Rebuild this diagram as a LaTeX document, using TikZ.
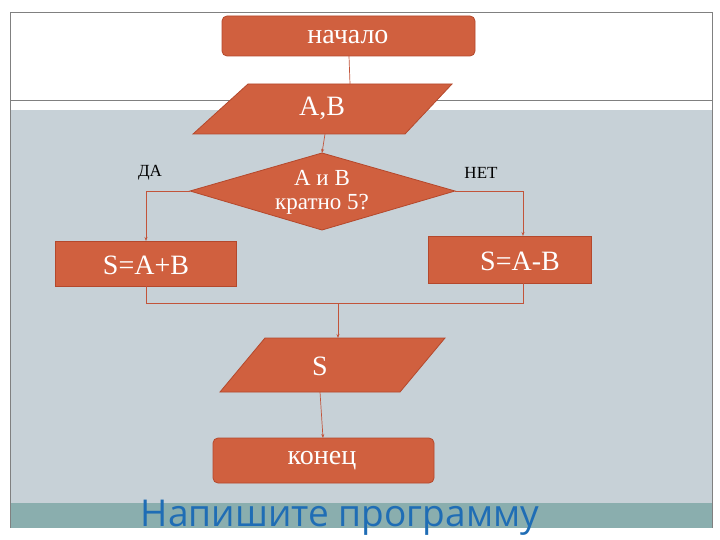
\documentclass[tikz,border=0pt]{standalone}
\usepackage{fontspec}
\setmainfont{Liberation Serif}
\newfontfamily\sansf{Open Sans}
\usetikzlibrary{shapes.geometric,arrows.meta}
\definecolor{boxfill}{HTML}{D0603F}
\definecolor{boxedge}{HTML}{B4482C}
\definecolor{bggray}{HTML}{C7D1D7}
\definecolor{teal}{HTML}{8AAEAE}
\definecolor{lnk}{HTML}{C2543A}
\definecolor{blu}{HTML}{1F6DB5}
\begin{document}
\begin{tikzpicture}[x=1pt,y=-1pt,
  shp/.style={fill=boxfill,draw=boxedge,line width=0.8pt},
  lbl/.style={text=white,font=\fontsize{28}{30}\selectfont},
  conn/.style={draw=lnk,line width=0.7pt},
  arr/.style={conn,-{Stealth[length=4pt,width=3pt]}},
  side/.style={font=\fontsize{17}{19}\selectfont,text=black}]
\useasboundingbox (0,0) rectangle (720,540);
\fill[white] (0,0) rectangle (720,540);
\fill[bggray] (10,110) rectangle (712,503);
\fill[teal] (10,503) rectangle (712,528);
\draw[gray,line width=0.6pt] (10,528) -- (10,12) -- (712,12) -- (712,528);
\draw[gray,line width=0.6pt] (10,100) -- (712,100);
% shapes
\draw[shp,rounded corners=5pt] (222,16) rectangle (475,56);
\node[lbl] (start) at (348,37) {начало};
\coordinate (startb) at (349,56);
\draw[shp] (248,84) -- (452,84) -- (405,134) -- (193,134) -- cycle;
\node[lbl] (ab) at (322,108) {А,В};
\coordinate (abt) at (350,84);
\coordinate (abb) at (325,134);
\draw[shp] (322,153) -- (455,191) -- (322,230) -- (190,191) -- cycle;
\node[lbl,align=center,font=\fontsize{23}{24}\selectfont] (cond) at (322,192) {А и В\\кратно 5?};
\coordinate (ct) at (322,153);
\coordinate (cl) at (190,191);
\coordinate (cr) at (455,191);
\draw[shp] (55,241) rectangle (236,286);
\node[lbl] (sp) at (146,265) {S=A+B};
\coordinate (spt) at (146,241);
\coordinate (spb) at (146,286);
\draw[shp] (428,236) rectangle (591,283);
\node[lbl] (sm) at (520,261) {S=A-B};
\coordinate (smt) at (523,236);
\coordinate (smb) at (523,283);
\draw[shp] (265,338) -- (445,338) -- (400,392) -- (220,392) -- cycle;
\node[lbl] (s) at (320,366) {S};
\coordinate (st) at (338,338);
\coordinate (sb) at (320,392);
\draw[shp,rounded corners=5pt] (213,438) rectangle (434,483);
\node[lbl] (end) at (322,461) {конец};
\coordinate (endt) at (323,438);
% labels
\node[side] (da) at (150,173) {ДА};
\node[side] (net) at (481,173) {НЕТ};
% connectors
\draw[conn] (startb) -- (abt);
\draw[arr] (abb) -- (ct);
\draw[arr] (cl) -| (spt);
\draw[arr] (cr) -| (smt);
\coordinate (mj) at (338,303);
\draw[conn] (spb) |- (mj);
\draw[conn] (smb) |- (mj);
\draw[arr] (mj) -- (st);
\draw[arr] (sb) -- (endt);
\node[text=blu,font=\sansf\fontsize{37}{40}\selectfont] (title) at (340,518) {Напишите программу};
\end{tikzpicture}
\end{document}
